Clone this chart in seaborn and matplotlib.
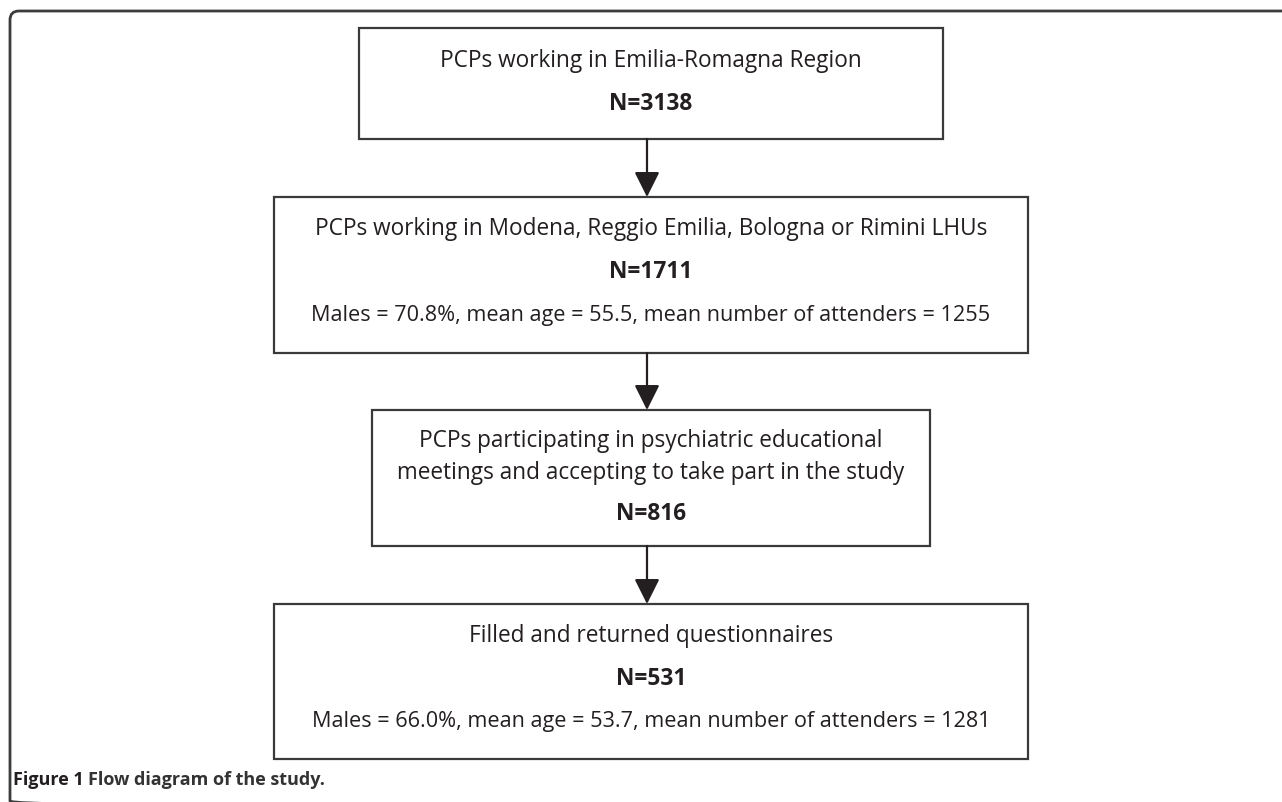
import matplotlib
matplotlib.use("Agg")
import matplotlib.pyplot as plt
from matplotlib.patches import FancyBboxPatch, Rectangle
import seaborn as sns

# ---- content ----
box_titles = [
    "PCPs working in Emilia-Romagna Region",
    "PCPs working in Modena, Reggio Emilia, Bologna or Rimini LHUs",
    "PCPs participating in psychiatric educational\nmeetings and accepting to take part in the study",
    "Filled and returned questionnaires",
]
box_counts = [3138, 1711, 816, 531]
box_stats = [
    None,
    "Males = 70.8%, mean age = 55.5, mean number of attenders = 1255",
    None,
    "Males = 66.0%, mean age = 53.7, mean number of attenders = 1281",
]
caption_bold = "Figure 1"
caption_text = "Flow diagram of the study."

sns.set_theme(style="white")
plt.rcParams["font.family"] = ["Open Sans", "DejaVu Sans"]

W, H = 1282, 802
fig = plt.figure(figsize=(W / 100, H / 100), dpi=100)
ax = fig.add_axes([0, 0, 1, 1])
ax.set_xlim(0, W)
ax.set_ylim(H, 0)
ax.axis("off")

ink = "#231f20"
edge = "#3a3a3a"
fs = 16.3

# outer frame (rounded top-left corner, open to the right/bottom)
frame = FancyBboxPatch((10, 11), 1400, 799, boxstyle="round,pad=0,rounding_size=9",
                       fill=False, ec="#3c3c3c", lw=2.0, clip_on=True)
ax.add_patch(frame)

# layout: (x0, x1, y0, y1) and text line y-positions
boxes = [
    (359, 943, 28, 139),
    (274, 1028, 197, 353),
    (372, 930, 410, 546),
    (274, 1028, 604, 759),
]
title_y = [61, 229, 457, 636]
count_y = [104, 272, 514, 679]
stats_y = [None, 316, None, 722]

cx = 651
for i, (x0, x1, y0, y1) in enumerate(boxes):
    ax.add_patch(Rectangle((x0, y0), x1 - x0, y1 - y0, fill=False, ec=edge, lw=1.6))
    ax.text(cx, title_y[i], box_titles[i], ha="center", va="center", fontsize=fs,
            color=ink, linespacing=1.4)
    ax.text(cx, count_y[i], f"N={box_counts[i]}", ha="center", va="center",
            fontsize=fs, fontweight="bold", color=ink)
    if box_stats[i]:
        ax.text(cx, stats_y[i], box_stats[i], ha="center", va="center",
                fontsize=15.6, color=ink)

# arrows between boxes
ax_x = 647
for a, b in zip(boxes[:-1], boxes[1:]):
    ax.annotate("", xy=(ax_x, b[2]), xytext=(ax_x, a[3]),
                arrowprops=dict(arrowstyle="-|>,head_length=0.7,head_width=0.35",
                                color=ink, lw=1.6, shrinkA=0, shrinkB=0,
                                mutation_scale=22))

# caption
t = ax.text(13, 780, caption_bold + " ", ha="left", va="center", fontsize=13,
            fontweight="bold", color=ink)
fig.canvas.draw()
bb = t.get_window_extent()
x_next = ax.transData.inverted().transform((bb.x1, bb.y0))[0]
ax.text(x_next, 780, caption_text, ha="left", va="center", fontsize=13,
        fontweight="bold", color="#333333")

fig.savefig("out.png", dpi=100)
